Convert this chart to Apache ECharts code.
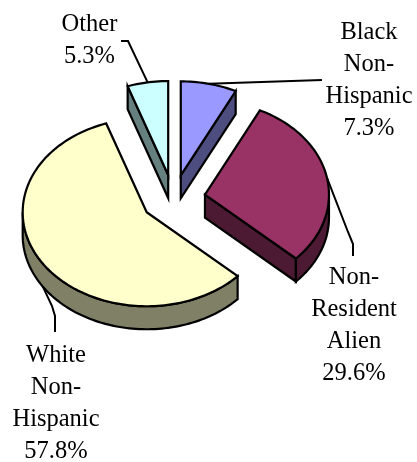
<!DOCTYPE html>
<html>
<head>
<meta charset="utf-8">
<script src="https://cdn.jsdelivr.net/npm/echarts/dist/echarts.min.js"></script>
<style>
html,body{margin:0;padding:0;background:#fff;}
#chart{width:417px;height:462px;}
</style>
</head>
<body>
<div id="chart"></div>
<script>
// ---- data ----
const categories = ['Black Non-Hispanic', 'Non-Resident Alien', 'White Non-Hispanic', 'Other'];
const shares = [7.3, 29.6, 57.8, 5.3];

// ---- styles / layout ----
const topColors  = ['#9999FF', '#993366', '#FFFFCC', '#CCFFFF'];
const sideColors = ['#4D4D80', '#4D1A33', '#808066', '#668080'];
const L = { cx: 173.5, cy: 199, rx: 124, ry: 94, depth: 23, explode: 32 };
const labelLayout = [
  { x: 369, y: 16.5, anchor: 'top',    path: [[322, 80]] },
  { x: 354, y: 261.5, anchor: 'top',   path: [[348, 232], [353, 244], [353, 256]] },
  { x: 56,  y: 339.5, anchor: 'bottom', path: [[52, 306], [55, 316], [55, 332]] },
  { x: 89.5, y: 8.5, anchor: 'top',    path: [[128, 41], [121, 41]] }
];
const FONT_FAMILY = 'Liberation Serif';
const FONT_SIZE = 24.5;

const total = shares.reduce((a, b) => a + b, 0);

function renderItem(params, api) {
  const i = params.dataIndex;
  const val = api.value(1);
  let before = 0;
  for (let j = 0; j < i; j++) before += shares[j];
  const a1 = before / total * Math.PI * 2;
  const a2 = (before + val) / total * Math.PI * 2;
  const m = (a1 + a2) / 2;
  const k = L.ry / L.rx;
  const ax = L.cx + L.explode * Math.sin(m);
  const ay = L.cy - L.explode * Math.cos(m) * k;
  const D = L.depth;
  const P = (t, dz) => [ax + L.rx * Math.sin(t), ay - L.ry * Math.cos(t) + (dz || 0)];
  const arc = (from, to, dz) => {
    const n = Math.max(2, Math.ceil(Math.abs(to - from) / (Math.PI / 120)));
    const pts = [];
    for (let s = 0; s <= n; s++) pts.push(P(from + (to - from) * s / n, dz));
    return pts;
  };
  const stroke = { stroke: '#000', lineWidth: 2.2, lineJoin: 'miter' };
  const children = [];
  if (Math.sin(a1) < -1e-6) {
    const p = P(a1), q = P(a1, D);
    children.push({ type: 'polygon', shape: { points: [[ax, ay], p, q, [ax, ay + D]] },
      style: Object.assign({ fill: sideColors[i] }, stroke) });
  }
  if (Math.sin(a2) > 1e-6) {
    const p = P(a2), q = P(a2, D);
    children.push({ type: 'polygon', shape: { points: [[ax, ay], p, q, [ax, ay + D]] },
      style: Object.assign({ fill: sideColors[i] }, stroke) });
  }
  const r1 = Math.max(a1, Math.PI / 2), r2 = Math.min(a2, Math.PI * 1.5);
  if (r2 > r1) {
    const pts = arc(r1, r2, 0).concat(arc(r2, r1, D));
    children.push({ type: 'polygon', shape: { points: pts },
      style: Object.assign({ fill: sideColors[i] }, stroke) });
  }
  children.push({ type: 'polygon', shape: { points: [[ax, ay]].concat(arc(a1, a2, 0)) },
    style: Object.assign({ fill: topColors[i] }, stroke) });

  const lay = labelLayout[i];
  const anchorPt = lay.anchor === 'bottom' ? P(m, D) : P(m, 0);
  children.push({ type: 'polyline', shape: { points: [anchorPt].concat(lay.path) },
    style: { stroke: '#000', lineWidth: 2, fill: null } });
  const name = categories[i].replace(/-/g, '-\n').replace(/ /g, '\n');
  children.push({ type: 'text',
    style: { text: name + '\n' + val.toFixed(1) + '%', x: lay.x, y: lay.y,
      fontFamily: FONT_FAMILY, fontSize: FONT_SIZE, fontWeight: 'normal',
      fill: '#000', align: 'center', verticalAlign: 'top', lineHeight: 32 } });
  return { type: 'group', children: children };
}

const chart = echarts.init(document.getElementById('chart'), null, { renderer: 'canvas' });
chart.setOption({
  backgroundColor: '#ffffff',
  animation: false,
  textStyle: { fontFamily: FONT_FAMILY },
  series: [{
    type: 'custom',
    coordinateSystem: 'none',
    renderItem: renderItem,
    data: shares.map((v, i) => [i, v])
  }]
});
</script>
</body>
</html>
